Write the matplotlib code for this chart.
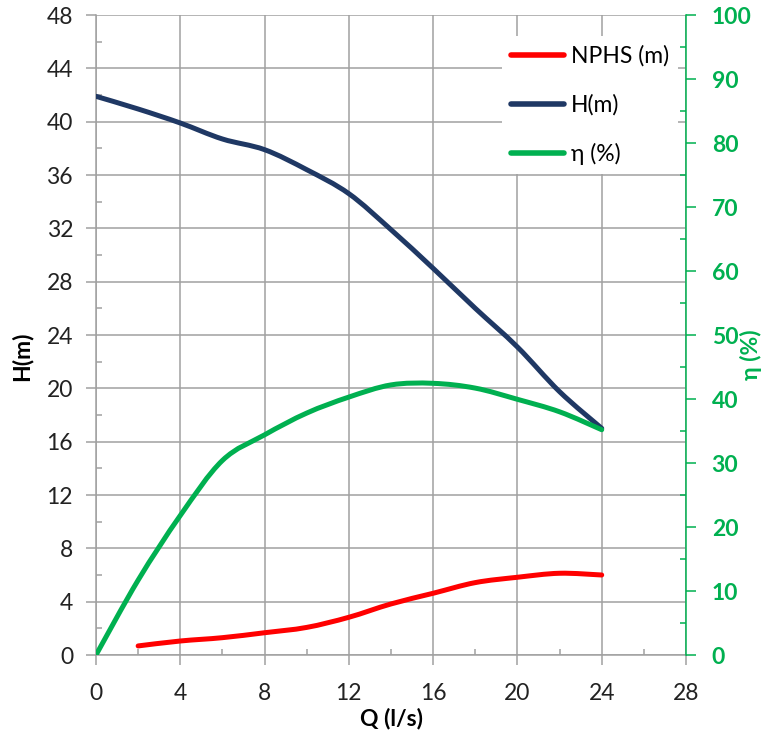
import matplotlib
matplotlib.use("Agg")
import matplotlib.pyplot as plt
from matplotlib.path import Path
from matplotlib.patches import PathPatch
from matplotlib.lines import Line2D
from matplotlib.ticker import MultipleLocator
import numpy as np

plt.rcParams['font.family'] = ['Lato', 'DejaVu Sans']

# Pump performance curves
q_head = [0, 2, 4, 6, 8, 10, 12, 14, 16, 18, 20, 22, 24]
head_m = [41.9, 40.95, 39.9, 38.7, 37.9, 36.4, 34.6, 31.9, 29.0, 26.0, 23.1, 19.75, 17.0]

q_npsh = [2, 4, 6, 8, 10, 12, 14, 16, 18, 20, 22, 24]
npsh_m = [0.68, 1.05, 1.3, 1.67, 2.07, 2.83, 3.83, 4.63, 5.43, 5.83, 6.13, 6.0]

q_eff = [0, 2, 4, 6, 8, 10, 12, 14, 16, 18, 20, 22, 24]
eff_pct = [0, 11.7, 21.8, 30.4, 34.4, 37.8, 40.3, 42.2, 42.45, 41.7, 39.95, 38.0, 35.2]

x_ticks = [0, 4, 8, 12, 16, 20, 24, 28]
h_ticks = [0, 4, 8, 12, 16, 20, 24, 28, 32, 36, 40, 44, 48]
eff_ticks = [0, 10, 20, 30, 40, 50, 60, 70, 80, 90, 100]

RED = "#ff0000"
NAVY = "#1f3864"
GREEN = "#00b050"
GRID = "#a0a0a0"
LW = 3.6
FS = 16.5


def smooth_path(xs, ys):
    """Bezier path through the points, Catmull-Rom style tangents."""
    pts = np.column_stack([xs, ys]).astype(float)
    n = len(pts)
    verts = [pts[0]]
    codes = [Path.MOVETO]
    for i in range(n - 1):
        p0 = pts[i - 1] if i > 0 else pts[i]
        p1 = pts[i]
        p2 = pts[i + 1]
        p3 = pts[i + 2] if i + 2 < n else pts[i + 1]
        c1 = p1 + (p2 - p0) / 6.0
        c2 = p2 - (p3 - p1) / 6.0
        verts += [c1, c2, p2]
        codes += [Path.CURVE4] * 3
    return Path(verts, codes)


fig = plt.figure(figsize=(7.7, 7.38), dpi=100)
ax = fig.add_axes([96 / 770, 83 / 738, 590 / 770, 640 / 738])
ax2 = ax.twinx()

ax.set_xlim(0, 28)
ax.set_ylim(0, 48)
ax2.set_ylim(0, 100)

ax.add_patch(PathPatch(smooth_path(q_npsh, npsh_m), fill=False, edgecolor=RED,
                       lw=LW, capstyle='round', joinstyle='round', zorder=3))
ax.add_patch(PathPatch(smooth_path(q_head, head_m), fill=False, edgecolor=NAVY,
                       lw=LW, capstyle='round', joinstyle='round', zorder=3))
ax2.add_patch(PathPatch(smooth_path(q_eff, eff_pct), fill=False, edgecolor=GREEN,
                        lw=LW, capstyle='round', joinstyle='round', zorder=3))

# Ticks and grid
ax.set_xticks(x_ticks)
ax.set_yticks(h_ticks)
ax2.set_yticks(eff_ticks)
ax.xaxis.set_minor_locator(MultipleLocator(2))
ax.yaxis.set_minor_locator(MultipleLocator(2))
ax2.yaxis.set_minor_locator(MultipleLocator(5))

ax.grid(True, which='major', color=GRID, lw=1.1)
ax.set_axisbelow(True)

ax.tick_params(axis='both', which='major', direction='out', length=7.5, width=1.1,
               color=GRID, labelsize=FS, labelcolor='#222222', pad=9)
ax.tick_params(axis='x', which='major', pad=13)
ax.tick_params(axis='both', which='minor', direction='in', length=4.5, width=1.1, color=GRID)
ax2.tick_params(axis='y', which='major', direction='out', length=7.5, width=1.1,
                color=GREEN, labelsize=FS, labelcolor=GREEN, pad=11)
ax2.tick_params(axis='y', which='minor', direction='in', length=4.5, width=1.1, color=GREEN)
for lbl in ax2.get_yticklabels():
    lbl.set_fontweight('bold')

for a in (ax, ax2):
    a.spines['top'].set_visible(False)
ax.spines['right'].set_visible(False)
ax.spines['left'].set_color(GRID)
ax.spines['bottom'].set_color(GRID)
ax2.spines['left'].set_visible(False)
ax2.spines['bottom'].set_visible(False)
ax2.spines['right'].set_color(GREEN)
for s in ('left', 'bottom'):
    ax.spines[s].set_linewidth(1.1)
ax2.spines['right'].set_linewidth(1.1)

ax.set_xlabel("Q (l/s)", fontsize=FS, fontweight='bold', labelpad=2)
fig.text(22 / 770, 1 - 356 / 738, "H(m)", rotation=90, fontsize=FS, fontweight='bold',
         ha='center', va='center')
fig.text(751 / 770, 1 - 355 / 738, "η (%)", rotation=90, fontsize=FS, fontweight='bold',
         color=GREEN, ha='center', va='center')

handles = [Line2D([], [], color=RED, lw=LW + 0.4, solid_capstyle='round'),
           Line2D([], [], color=NAVY, lw=LW + 0.4, solid_capstyle='round'),
           Line2D([], [], color=GREEN, lw=LW + 0.4, solid_capstyle='round')]
labels = ["NPHS (m)", "H(m)", "η (%)"]
leg = ax2.legend(handles, labels, loc='upper left',
                 bbox_to_anchor=(502 / 770, 1 - 36 / 738), bbox_transform=fig.transFigure,
                 fontsize=FS, frameon=True, facecolor='white', edgecolor='none',
                 framealpha=1.0, fancybox=False, handlelength=2.3, handletextpad=0.3,
                 labelspacing=1.2, borderpad=0.4, borderaxespad=0)
leg.set_zorder(10)

fig.savefig("out.png", dpi=100, facecolor='white')
